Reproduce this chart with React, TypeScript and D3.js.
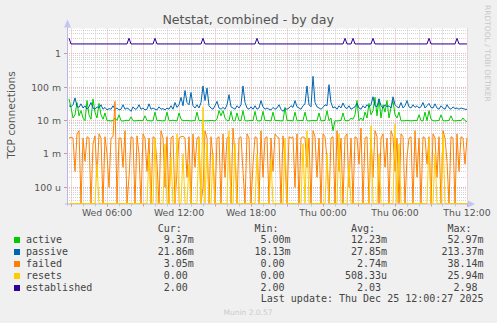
import React from 'react';
import * as d3 from 'd3';

const W = 497;
const H = 323;
const START = new Date(2025, 11, 24, 2, 40);
const END = new Date(2025, 11, 25, 12, 0);
const STEP_MIN = 10;

// values in milli-connections (m)
const active = [
  45, 25, 12, 15, 35, 14, 20, 12, 10, 40, 15, 11, 45, 18, 12, 33, 15, 11, 17, 10,
  10, 9.8, 10, 12, 10.2, 15, 10, 9.7, 10, 10.3, 10, 13, 10, 9.8, 10, 10.2, 10, 10, 14, 10,
  10, 9.8, 10, 18, 10, 10.2, 10, 9.8, 10, 18, 10, 10, 10.3, 10, 9.8, 17, 11, 10, 10, 10.2,
  10, 9.8, 10, 10, 18, 10, 10.2, 10, 9.8, 10, 10, 10.2, 10, 9.8, 11, 20, 14, 20, 12, 10,
  10, 19, 10, 9.8, 17, 10, 10.2, 20, 10, 9.8, 10, 10.2, 10, 19, 10, 9.8, 10, 19, 10, 10.2,
  10, 9.8, 18, 10, 10.2, 10, 9.8, 10, 25, 10, 10.2, 10, 9.8, 18, 10, 10, 10.2, 10, 18, 10,
  9.8, 10, 10.2, 10, 10, 17, 9.8, 10, 10.2, 20, 10, 12, 5, 10, 9.8, 10, 10.2, 17, 10, 10,
  10, 12, 11, 15, 40, 10, 12, 10, 18, 12, 33, 15, 20, 50, 14, 45, 12, 30, 18, 40,
  12, 25, 40, 15, 12, 18, 10, 9.8, 10, 10.2, 10, 9.8, 10, 10.2, 10, 15, 10, 9.8, 18, 10,
  20, 11, 10, 9.8, 10, 10.2, 15, 10, 9.8, 10, 10.2, 14, 10, 9.8, 10, 10.2, 10, 12, 10, 9.37,
];
const passive = [
  28, 26, 30, 48, 27, 25, 32, 24, 28, 22, 26, 35, 24, 22, 26, 24, 30, 22, 25, 21,
  23, 22, 28, 22, 24, 21, 22, 30, 22, 24, 22, 19, 26, 22, 23, 30, 22, 24, 21, 22,
  32, 22, 24, 22, 21, 26, 22, 23, 21, 24, 22, 28, 22, 35, 25, 30, 50, 28, 80, 35,
  30, 70, 28, 24, 30, 24, 35, 110, 40, 95, 28, 24, 22, 28, 38, 24, 22, 25, 22, 30,
  60, 26, 24, 22, 28, 24, 30, 110, 35, 24, 22, 26, 22, 28, 22, 24, 40, 26, 22, 24,
  22, 21, 25, 22, 24, 30, 22, 19, 23, 22, 24, 28, 25, 40, 26, 24, 22, 28, 32, 110,
  30, 26, 213, 35, 26, 24, 22, 25, 30, 28, 120, 35, 24, 26, 22, 28, 24, 34, 25, 23,
  28, 22, 24, 26, 33, 24, 22, 28, 24, 30, 26, 30, 52, 28, 26, 45, 28, 24, 30, 26,
  28, 24, 52, 30, 26, 24, 35, 24, 28, 40, 26, 24, 30, 25, 28, 24, 26, 35, 24, 28,
  33, 25, 24, 32, 24, 22, 28, 24, 22, 30, 24, 22, 26, 23, 24, 22, 24, 23, 22, 21.86,
];
const failed = [
  3, 3.2, 3, 0.3, 4, 5, 0, 3, 0.6, 3.3, 3, 0, 2, 3.5, 0.2, 4, 3, 0, 3.3, 1,
  0.1, 3, 3.3, 38, 0, 3, 3, 0.4, 5, 0, 0.2, 3.3, 3, 0, 3.5, 1, 0, 4, 3, 0.3,
  3, 0, 3.3, 3, 0.5, 0, 5, 3, 0.1, 3.3, 0, 3, 3.5, 0, 0.3, 3, 3.3, 3.4, 3, 0.2,
  3.3, 0, 4, 0.4, 3, 3.3, 0, 0.1, 5, 3, 0, 3.3, 0.8, 0, 3, 3.3, 0, 4, 0.2, 3,
  3.3, 0, 6, 1, 0, 3, 3.3, 0.3, 0, 4, 3, 0, 0.5, 3.3, 3, 0, 5, 0.2, 3, 3.3,
  0, 3, 0.3, 4, 3.3, 3, 0, 3.5, 0.6, 0, 3.3, 3, 3.3, 0.1, 4, 0, 3, 3.3, 3, 0.4,
  3, 0, 5, 3.3, 0.2, 3, 0, 4, 3.3, 0.7, 0, 3, 3.3, 0, 5, 0.3, 3, 0, 3.3, 4,
  0.1, 3, 0, 3.3, 3, 0.5, 6, 0, 3, 3.3, 0, 3, 0.2, 5, 3.3, 0, 3, 4, 0.4, 3,
  0, 5, 3.3, 0.3, 3, 0, 4, 3.3, 0, 0.8, 3, 3.3, 0, 5, 0.2, 3, 0, 3.3, 3, 0.5,
  3.3, 0, 4, 3, 0.2, 3.3, 0, 5, 3, 0.6, 0, 3.3, 3, 0, 4, 0.3, 3.3, 3, 0.5, 3.05,
];
const resets = [
  0, 0, 0, 0, 0, 0, 0, 0, 0, 0, 0, 0, 0, 0, 0.5, 0, 0, 0, 0, 0,
  0, 0, 0, 0, 0, 0, 0, 0, 0, 0, 0, 0, 0, 0, 0, 0, 0, 0, 0, 0,
  1, 0, 0, 3, 0, 0, 0, 0, 2, 0, 0, 0.8, 0, 0, 4, 0, 0, 1, 0, 0,
  0.5, 0, 0, 0, 0, 3, 0, 25.9, 0, 2, 0, 0, 1, 0, 0, 0, 0, 0, 0, 0,
  5, 0, 0, 2, 0, 0, 0, 0, 0, 0, 0, 0, 0, 0, 1, 0, 0, 0, 0, 0,
  0, 0.7, 0, 0, 0, 0, 0, 0, 3, 0, 0, 0, 0, 0, 0, 0, 0, 2, 0, 5,
  0, 0, 0, 0, 0, 0, 0, 0, 0, 1, 0, 0, 0, 0, 0, 4, 0, 0, 0, 0,
  0.5, 0, 0, 0, 0, 0, 0, 0, 0, 0, 0, 7, 0, 0, 0, 1, 0, 0, 0, 0,
  0, 0, 0, 8, 0, 2, 0, 0, 0, 0, 0, 0, 0, 0, 0, 0, 0, 0, 0, 0,
  3, 0, 0, 1, 0, 0, 0, 4, 0, 0, 0, 0, 0, 0, 0, 0, 0, 0, 0, 0,
];
// values in connections
const established = [
  2.98, 2, 2, 2, 2, 2, 2, 2, 2, 2, 2, 2, 2, 2, 2, 2, 2, 2, 2, 2,
  2, 2, 2, 2, 2, 2, 2, 2, 2, 2, 2.98, 2, 2, 2, 2, 2, 2, 2, 2, 2,
  2, 2, 2, 2.95, 2, 2, 2, 2, 2, 2, 2, 2, 2, 2, 2, 2, 2, 2, 2, 2,
  2, 2, 2, 2, 2, 2, 2, 2.95, 2, 2, 2, 2, 2, 2, 2, 2, 2, 2, 2, 2,
  2, 2, 2, 2, 2, 2, 2, 2, 2, 2, 2, 2, 2, 2, 2.95, 2, 2, 2, 2, 2,
  2, 2, 2, 2, 2, 2, 2, 2, 2, 2, 2, 2, 2, 2, 2, 2, 2, 2, 2, 2,
  2, 2, 2, 2, 2, 2, 2, 2, 2, 2, 2, 2, 2, 2, 2, 2, 2, 2, 2.95, 2,
  2, 2, 2.95, 2, 2, 2, 2, 2, 2, 2, 2, 2, 2.95, 2, 2, 2, 2, 2, 2, 2,
  2, 2, 2, 2, 2, 2, 2, 2, 2, 2, 2, 2, 2, 2, 2, 2, 2, 2, 2, 2,
  2.95, 2, 2, 2, 2, 2, 2, 2, 2, 2, 2, 2, 2, 2, 2.95, 2, 2, 2, 2, 2,
];

const legendNames = ['active', 'passive', 'failed', 'resets', 'established'];
const legendColors = ['#00cc00', '#0066b3', '#ff8000', '#ffcc00', '#330099'];
const legendCur = ['9.37m', '21.86m', '3.05m', '0.00', '2.00'];
const legendMin = ['5.00m', '18.13m', '0.00', '0.00', '2.00'];
const legendAvg = ['12.23m', '27.85m', '2.74m', '508.33u', '2.03'];
const legendMax = ['52.97m', '213.37m', '38.14m', '25.94m', '2.98'];
const colHeaders = ['Cur:', 'Min:', 'Avg:', 'Max:'];
const yTickLabels = ['1', '100 m', '10 m', '1 m', '100 u'];
const yTickValues = [1, 0.1, 0.01, 0.001, 0.0001];

const seriesData: number[][] = [
  active.map((v) => v / 1000),
  passive.map((v) => v / 1000),
  failed.map((v) => v / 1000),
  resets.map((v) => v / 1000),
  established,
];

const L = 67, R = 467, T = 28.5, B = 203.5;
const x = d3.scaleTime().domain([START, END]).range([L, R]);
const y = d3.scaleLog().domain([3.27e-5, 5.82]).range([B, T]);
const yv = (v: number) => (v > 0 ? Math.max(T, Math.min(B, y(v))) : B);
const tAt = (i: number) => new Date(START.getTime() + (i + 1) * STEP_MIN * 60000);

const SANS = 'DejaVu Sans, sans-serif';
const MONO = 'DejaVu Sans Mono, monospace';

export default function App() {
  const line = d3
    .line<number>()
    .x((_, i) => x(tAt(i)))
    .y((v) => yv(v));

  const minorH: number[] = [];
  const majorH: number[] = [];
  for (let e = -5; e <= 0; e++) {
    for (let k = 1; k <= 9; k++) {
      const v = k * Math.pow(10, e);
      if (v < y.domain()[0] || v > y.domain()[1]) continue;
      (k === 1 ? majorH : minorH).push(v);
    }
  }
  const hours = d3.timeHour.range(START, new Date(END.getTime() + 1));
  const labelTimes = d3.timeHour.every(6)!.range(START, new Date(END.getTime() + 1));
  const fmt = d3.timeFormat('%a %H:%M');
  const snap = (v: number) => Math.floor(v) + 0.5;

  const numEnds = [187.8, 284.5, 381, 477.5];
  const cols = [legendCur, legendMin, legendAvg, legendMax];
  const splitVal = (s: string) => {
    const last = s[s.length - 1];
    if (/[0-9]/.test(last)) return [s, ''];
    return [s.slice(0, -1), last];
  };

  return (
    <svg width={W} height={H} style={{ position: 'absolute', left: 0, top: 0, background: '#f0f0f0' }}>
      <rect x={0} y={0} width={W} height={H} fill="#f0f0f0" />
      <rect x={L} y={T} width={R - L} height={B - T} fill="#ffffff" />
      <defs>
        <clipPath id="plot">
          <rect x={L} y={T - 1} width={R - L + 1} height={B - T + 1.5} />
        </clipPath>
      </defs>
      {minorH.map((v, i) => (
        <line key={'mh' + i} x1={L} x2={R} y1={snap(y(v))} y2={snap(y(v))} stroke="#d2d2d2" strokeWidth={1} strokeDasharray="1,1" />
      ))}
      {hours.map((t, i) => {
        const major = t.getHours() % 3 === 0;
        if (major) return null;
        return <line key={'mv' + i} x1={snap(x(t))} x2={snap(x(t))} y1={T} y2={B} stroke="#d2d2d2" strokeWidth={1} strokeDasharray="1,1" />;
      })}
      {majorH.map((v, i) => (
        <line key={'Mh' + i} x1={L} x2={R} y1={snap(y(v))} y2={snap(y(v))} stroke="#eab4b4" strokeWidth={1} strokeDasharray="1,1" />
      ))}
      {hours.map((t, i) => {
        const major = t.getHours() % 3 === 0;
        if (!major) return null;
        return <line key={'Mv' + i} x1={snap(x(t))} x2={snap(x(t))} y1={T} y2={B} stroke="#eab4b4" strokeWidth={1} strokeDasharray="1,1" />;
      })}
      {hours.map((t, i) => {
        const major = t.getHours() % 3 === 0;
        return (
          <line key={'xt' + i} x1={snap(x(t))} x2={snap(x(t))} y1={B} y2={B + 3} stroke={major ? '#e09090' : '#c8c8c8'} strokeWidth={1} />
        );
      })}
      {majorH.map((v, i) => (
        <line key={'yt' + i} x1={L - 3} x2={L} y1={snap(y(v))} y2={snap(y(v))} stroke="#e09090" strokeWidth={1} />
      ))}
      <line x1={L + 0.5} x2={L + 0.5} y1={B + 2} y2={T - 6} stroke="#b8b8e8" strokeWidth={1} />
      <line x1={L - 2} x2={R + 2} y1={B + 0.5} y2={B + 0.5} stroke="#b8b8e8" strokeWidth={1} />
      <path d={`M${L - 3},${T - 1} L${L + 0.5},${T - 9} L${L + 4},${T - 1} Z`} fill="#c4c4f0" />
      <path d={`M${R + 1},${B - 3} L${R + 8},${B + 0.5} L${R + 1},${B + 4} Z`} fill="#c4c4f0" />
      <g clipPath="url(#plot)">
        {seriesData.map((vals, si) => (
          <path key={'s' + si} d={line(vals) || ''} fill="none" stroke={legendColors[si]} strokeWidth={1} strokeLinejoin="round" />
        ))}
      </g>
      {yTickValues.map((v, i) => (
        <text key={'yl' + i} x={61} y={y(v) + 3.4} textAnchor="end" fontFamily={SANS} fontSize={9.33} fill="#555">
          {yTickLabels[i]}
        </text>
      ))}
      {labelTimes.map((t, i) => (
        <text key={'xl' + i} x={x(t)} y={215.5} textAnchor="middle" fontFamily={SANS} fontSize={9.33} fill="#555">
          {fmt(t)}
        </text>
      ))}
      <text x={248.2} y={23.5} textAnchor="middle" fontFamily={SANS} fontSize={12.6} fill="#555">
        Netstat, combined - by day
      </text>
      <text transform="translate(15,115) rotate(-90)" textAnchor="middle" fontFamily={SANS} fontSize={10.7} fill="#555">
        TCP connections
      </text>
      <text transform="translate(485,5) rotate(90)" textAnchor="start" fontFamily={SANS} fontSize={7.5} fill="#c8c8c8">
        RRDTOOL / TOBI OETIKER
      </text>
      {colHeaders.map((h, ci) => (
        <text key={'ch' + ci} x={numEnds[ci] - 6} y={231.8} textAnchor="end" fontFamily={MONO} fontSize={10} fill="#444">
          {h}
        </text>
      ))}
      {legendNames.map((n, ri) => {
        const by = 243.3 + ri * 12;
        return (
          <g key={'lg' + ri}>
            <rect x={14} y={by - 6.3} width={6} height={6} fill={legendColors[ri]} />
            <text x={26} y={by} fontFamily={MONO} fontSize={10} fill="#444">
              {n}
            </text>
            {cols.map((col, ci) => {
              const [num, suf] = splitVal(col[ri]);
              return (
                <g key={'c' + ci}>
                  <text x={numEnds[ci]} y={by} textAnchor="end" fontFamily={MONO} fontSize={10} fill="#444">
                    {num}
                  </text>
                  {suf && (
                    <text x={numEnds[ci]} y={by} fontFamily={MONO} fontSize={10} fill="#444">
                      {suf}
                    </text>
                  )}
                </g>
              );
            })}
          </g>
        );
      })}
      <text x={483.5} y={302} textAnchor="end" fontFamily={MONO} fontSize={10} fill="#444">
        Last update: Thu Dec 25 12:00:27 2025
      </text>
      <text x={248} y={315} textAnchor="middle" fontFamily={SANS} fontSize={7.5} fill="#cccccc">
        Munin 2.0.57
      </text>
    </svg>
  );
}
